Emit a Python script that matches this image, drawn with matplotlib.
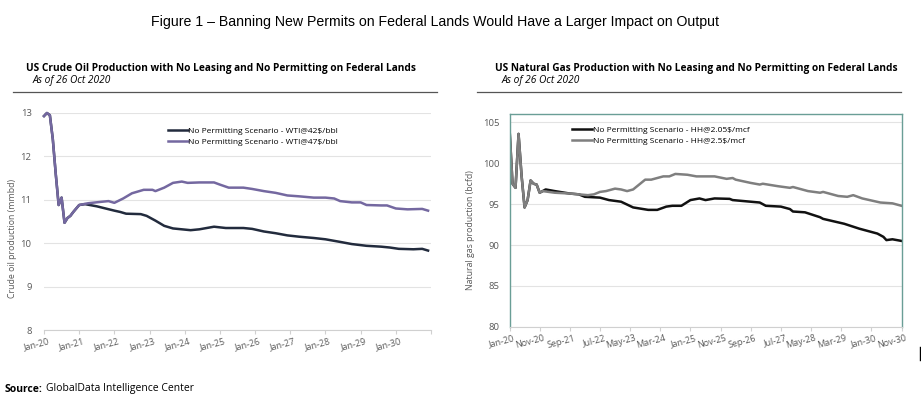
import matplotlib
matplotlib.use('Agg')
import matplotlib.pyplot as plt
from matplotlib.lines import Line2D
from matplotlib.transforms import offset_copy

# --- Crude oil (months since Jan-20) ---
oil_ticklabels = ['Jan-20', 'Jan-21', 'Jan-22', 'Jan-23', 'Jan-24', 'Jan-25',
                  'Jan-26', 'Jan-27', 'Jan-28', 'Jan-29', 'Jan-30', '']

oil47_m = [0, 1, 2, 3, 4, 5, 6, 7, 8, 9, 10, 12, 15, 19, 22, 24, 27, 30, 34, 37, 38,
           41, 44, 47, 49, 53, 58, 60, 63, 68, 71, 75, 79, 83, 87, 92, 96, 99, 101,
           105, 108, 110, 115, 117, 120, 124, 129, 131]
oil47_v = [12.93, 13.0, 12.95, 12.4, 11.6, 10.88, 11.05, 10.47, 10.58, 10.63, 10.72,
           10.88, 10.92, 10.95, 10.97, 10.93, 11.03, 11.15, 11.23, 11.23, 11.2,
           11.28, 11.39, 11.42, 11.39, 11.4, 11.4, 11.35, 11.28, 11.28, 11.25, 11.2,
           11.16, 11.1, 11.08, 11.05, 11.05, 11.03, 10.97, 10.94, 10.94, 10.88,
           10.87, 10.87, 10.8, 10.78, 10.79, 10.75]

oil42_m = [0, 1, 2, 3, 4, 5, 6, 7, 8, 9, 10, 12, 14, 18, 21, 24, 26, 28, 33, 35, 38,
           41, 44, 47, 50, 53, 58, 62, 68, 71, 75, 79, 83, 87, 92, 96, 101, 105,
           110, 115, 118, 121, 126, 129, 131]
oil42_v = [12.93, 13.0, 12.95, 12.4, 11.6, 10.88, 11.05, 10.47, 10.58, 10.63, 10.72,
           10.88, 10.9, 10.85, 10.8, 10.75, 10.72, 10.68, 10.67, 10.63, 10.52,
           10.4, 10.34, 10.32, 10.3, 10.32, 10.38, 10.35, 10.35, 10.33, 10.27,
           10.23, 10.18, 10.15, 10.12, 10.09, 10.03, 9.98, 9.94, 9.92, 9.9, 9.87,
           9.86, 9.87, 9.83]

# --- Natural gas (months since Jan-20) ---
gas_ticklabels = ['Jan-20', 'Nov-20', 'Sep-21', 'Jul-22', 'May-23', 'Mar-24', 'Jan-25',
                  'Nov-25', 'Sep-26', 'Jul-27', 'May-28', 'Mar-29', 'Jan-30', 'Nov-30']

gas205_m = [0, 1, 2, 3, 4, 5, 6, 7, 8, 9, 10, 11, 12, 15, 20, 23, 25, 30, 33, 37, 41,
            46, 49, 52, 54, 57, 60, 63, 65, 68, 73, 74, 80, 83, 85, 90, 93, 94, 98,
            103, 104, 111, 116, 122, 124, 125, 127, 130]
gas205_v = [104.3, 97.5, 97.0, 103.6, 98.5, 94.6, 95.5, 97.9, 97.5, 97.4, 96.4, 96.6,
            96.8, 96.6, 96.3, 96.2, 95.9, 95.8, 95.5, 95.3, 94.6, 94.3, 94.3, 94.7,
            94.8, 94.8, 95.5, 95.7, 95.5, 95.7, 95.65, 95.5, 95.3, 95.2, 94.8, 94.7,
            94.4, 94.1, 94.0, 93.4, 93.2, 92.6, 92.0, 91.4, 91.0, 90.6, 90.7, 90.5]

gas25_m = [0, 1, 2, 3, 4, 5, 6, 7, 8, 9, 10, 11, 15, 20, 26, 28, 30, 32, 35, 37, 39,
           41, 43, 45, 47, 49, 51, 53, 55, 59, 62, 68, 72, 74, 75, 80, 83, 84, 89,
           93, 94, 99, 103, 104, 109, 112, 114, 117, 123, 127, 130]
gas25_v = [104.3, 97.5, 97.0, 103.6, 98.5, 94.6, 95.5, 97.9, 97.5, 97.4, 96.4, 96.6,
           96.4, 96.3, 96.1, 96.2, 96.5, 96.6, 96.9, 96.8, 96.6, 96.8, 97.4, 98.0,
           98.0, 98.2, 98.4, 98.4, 98.7, 98.6, 98.4, 98.4, 98.1, 98.2, 98.0, 97.6,
           97.4, 97.5, 97.2, 97.0, 97.1, 96.6, 96.4, 96.5, 96.0, 95.9, 96.1, 95.7,
           95.2, 95.1, 94.8]

ui = ['Open Sans', 'DejaVu Sans']
tick_col = '#595959'
grid_col = '#e3e3e3'

fig = plt.figure(figsize=(9.21, 3.99), dpi=100)

fig.text(435 / 921, 1 - 22 / 399, 'Figure 1 \u2013 Banning New Permits on Federal Lands Would Have a Larger Impact on Output',
         ha='center', va='center', fontsize=10.2, family=['Liberation Sans', 'DejaVu Sans'])

# panel titles and rules
for x0, x1, xt, title in [(13, 437, 26, 'US Crude Oil Production with No Leasing and No Permitting on Federal Lands'),
                          (477, 901, 495, 'US Natural Gas Production with No Leasing and No Permitting on Federal Lands')]:
    fig.text(xt / 921, 1 - 68 / 399, title, ha='left', va='center', fontsize=7.25,
             fontweight='bold', family=ui)
    fig.text((xt + 7) / 921, 1 - 81 / 399, 'As of 26 Oct 2020', ha='left', va='center',
             fontsize=7.3, style='italic', family=ui)
    fig.add_artist(Line2D([x0 / 921, x1 / 921], [1 - 91.5 / 399] * 2, color='#555555', lw=0.9))

# ---- oil ----
ax1 = fig.add_axes([44 / 921, 1 - 330 / 399, 387 / 921, 217 / 399])
ax1.plot(oil42_m, oil42_v, color='#222b3d', lw=1.8, label='No Permitting Scenario - WTI@42$/bbl', clip_on=False)
ax1.plot(oil47_m, oil47_v, color='#7468a0', lw=1.8, label='No Permitting Scenario - WTI@47$/bbl', clip_on=False)
ax1.set_xlim(0, 132)
ax1.set_ylim(8, 13)
ax1.set_yticks(range(8, 14))
ax1.set_xticks(range(0, 133, 12))
ax1.set_xticklabels(oil_ticklabels, rotation=15, ha='right', rotation_mode='anchor')
ax1.set_ylabel('Crude oil production (mmbd)', fontsize=6.3, color=tick_col, family=ui)
ax1.yaxis.set_label_coords(-0.07, 0.424)
for s in ['top', 'right', 'left']:
    ax1.spines[s].set_visible(False)
ax1.spines['bottom'].set_color('#d0d0d0')
ax1.tick_params(axis='y', length=0, labelsize=6.8, labelcolor=tick_col, pad=9)
ax1.tick_params(axis='x', length=3, color='#d0d0d0', labelsize=6.5, labelcolor=tick_col, pad=2)
ax1.grid(axis='y', color=grid_col, lw=0.8)
ax1.set_axisbelow(True)
ax1.legend(loc='upper left', bbox_to_anchor=(0.3, 0.97), frameon=False,
           handlelength=2.4, handletextpad=0.1, labelspacing=0.35, prop={'family': ui, 'size': 6})

# ---- gas ----
ax2 = fig.add_axes([509.5 / 921, 1 - 326.7 / 399, 392 / 921, 212.4 / 399])
ax2.plot(gas205_m, gas205_v, color='#111111', lw=1.8, label='No Permitting Scenario - HH@2.05$/mcf')
ax2.plot(gas25_m, gas25_v, color='#7f7f7f', lw=1.8, label='No Permitting Scenario - HH@2.5$/mcf')
ax2.set_xlim(0, 130)
ax2.set_ylim(80, 106)
ax2.set_yticks(range(80, 106, 5))
ax2.set_xticks(range(0, 131, 10))
ax2.set_xticklabels(gas_ticklabels, rotation=15, ha='right', rotation_mode='anchor')
ax2.set_ylabel('Natural gas production (bcfd)', fontsize=6.3, color=tick_col, family=ui)
ax2.yaxis.set_label_coords(-0.088, 0.454)
for s in ['top', 'right', 'left']:
    ax2.spines[s].set_color('#6a9e96')
    ax2.spines[s].set_linewidth(1.0)
ax2.spines['bottom'].set_color('#d0d0d0')
ax2.tick_params(axis='y', length=0, labelsize=6.8, labelcolor=tick_col, pad=7)
ax2.tick_params(axis='x', length=3, color='#d0d0d0', labelsize=6.5, labelcolor=tick_col, pad=2)
ax2.grid(axis='y', color=grid_col, lw=0.8)
ax2.set_axisbelow(True)
ax2.legend(loc='upper left', bbox_to_anchor=(0.14, 0.98), frameon=False,
           handlelength=2.4, handletextpad=0.1, labelspacing=0.35, prop={'family': ui, 'size': 6})

for lab in ax1.get_xticklabels() + ax1.get_yticklabels() + ax2.get_xticklabels() + ax2.get_yticklabels():
    lab.set_family(ui)
for lab in ax1.get_xticklabels() + ax2.get_xticklabels():
    lab.set_transform(offset_copy(lab.get_transform(), fig=fig, x=4, y=0, units='dots'))

# small mark at right edge
fig.add_artist(Line2D([919.5 / 921] * 2, [1 - 347 / 399, 1 - 360 / 399], color='black', lw=1))

src = fig.text(5 / 921, 1 - 389 / 399, 'Source:', ha='left', va='center', fontsize=7.5,
               fontweight='bold', family=ui)
fig.canvas.draw()
bb = src.get_window_extent()
fig.text((bb.x1 + 3) / 921, 1 - 389 / 399, 'GlobalData Intelligence Center', ha='left', va='center',
         fontsize=7.5, family=ui)

fig.savefig('out.png', dpi=100)
